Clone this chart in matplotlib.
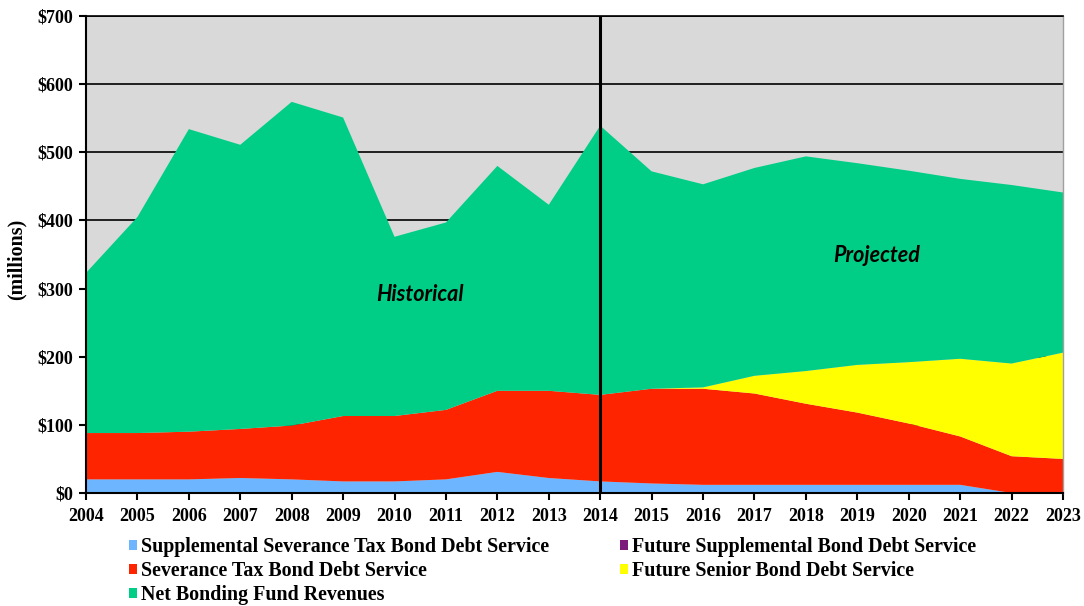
import matplotlib
matplotlib.use("Agg")
import matplotlib.pyplot as plt
from matplotlib.patches import Patch
from matplotlib.ticker import FuncFormatter, MultipleLocator

years = list(range(2004, 2024))
supplemental_sev = [20, 20, 20, 22, 20, 17, 17, 20, 31, 22, 17, 14, 12, 12, 12, 12, 12, 12, 0, 0]
severance = [68, 68, 70, 72, 79, 96, 96, 102, 119, 128, 127, 139, 141, 134, 119, 106, 90, 71, 54, 50]
future_supp = [0] * 20
future_senior = [0, 0, 0, 0, 0, 0, 0, 0, 0, 0, 0, 0, 2, 26, 48, 70, 90, 114, 136, 156]
net_bonding = [235, 317, 444, 417, 475, 438, 263, 275, 330, 273, 395, 319, 298, 305, 315, 296, 281, 264, 262, 235]

labels = ["Supplemental Severance Tax Bond Debt Service",
          "Severance Tax Bond Debt Service",
          "Future Supplemental Bond Debt Service",
          "Future Senior Bond Debt Service",
          "Net Bonding Fund Revenues"]
colors = ["#6DB6FF", "#FF2400", "#7B1A7B", "#FFFF00", "#00CE86"]

serif = ["Liberation Serif", "DejaVu Serif"]

fig = plt.figure(figsize=(10.84, 6.06), dpi=100)
ax = fig.add_axes([86/1084, 1 - 493/606, (1063 - 86)/1084, (493 - 16)/606])
ax.set_facecolor("#D9D9D9")

ax.stackplot(years, supplemental_sev, severance, future_supp, future_senior, net_bonding,
             colors=colors, linewidth=0, zorder=2)

ax.set_xlim(2004, 2023)
ax.set_ylim(0, 700)
ax.yaxis.set_major_locator(MultipleLocator(100))
ax.set_xticks(years)
ax.set_xticklabels([str(y) for y in years])
ax.yaxis.set_major_formatter(FuncFormatter(lambda v, p: f"${int(v)}"))
ax.grid(axis="y", color="black", linewidth=1.2, zorder=1)
ax.set_axisbelow(True)

for lab in ax.get_xticklabels() + ax.get_yticklabels():
    lab.set_fontfamily(serif)
    lab.set_fontweight("bold")
    lab.set_fontsize(13)
ax.tick_params(axis="x", direction="out", length=5, width=1.5, color="black", pad=6)
ax.tick_params(axis="y", direction="out", length=5, width=1.5, color="black", pad=4)

ax.spines["left"].set_linewidth(1.5)
ax.spines["bottom"].set_linewidth(1.5)
ax.spines["top"].set_linewidth(1.2)
ax.spines["right"].set_color("#A0A0A0")
ax.spines["right"].set_linewidth(1.0)
for s in ax.spines.values():
    s.set_zorder(5)

ax.axvline(2014, color="black", linewidth=2.2, zorder=4)

ax.text(2010.5, 292, "Historical", fontfamily=["Lato", "DejaVu Sans"], fontstyle="italic",
        fontweight="bold", fontsize=15.5, ha="center", va="center", zorder=6)
ax.text(2019.38, 349, "Projected", fontfamily=["Lato", "DejaVu Sans"], fontstyle="italic",
        fontweight="bold", fontsize=15.5, ha="center", va="center", zorder=6)

ax.set_ylabel("(millions)", fontfamily=serif, fontweight="bold", fontsize=14.4)
ax.yaxis.set_label_coords(-0.061, 0.49)

order = [0, 1, 4, 2, 3]
handles = [Patch(facecolor=colors[i], edgecolor="none") for i in order]
leg_labels = [labels[i] for i in order]
leg = fig.legend(handles, leg_labels, ncol=2, loc="upper left",
                 bbox_to_anchor=(129/1084, 1 - 537/606), frameon=False,
                 prop={"family": serif, "weight": "bold", "size": 14.4},
                 handlelength=0.42, handleheight=0.42, handletextpad=0.2,
                 columnspacing=3.5, labelspacing=0.2, borderpad=0, borderaxespad=0)

fig.savefig("out.png", dpi=100)
